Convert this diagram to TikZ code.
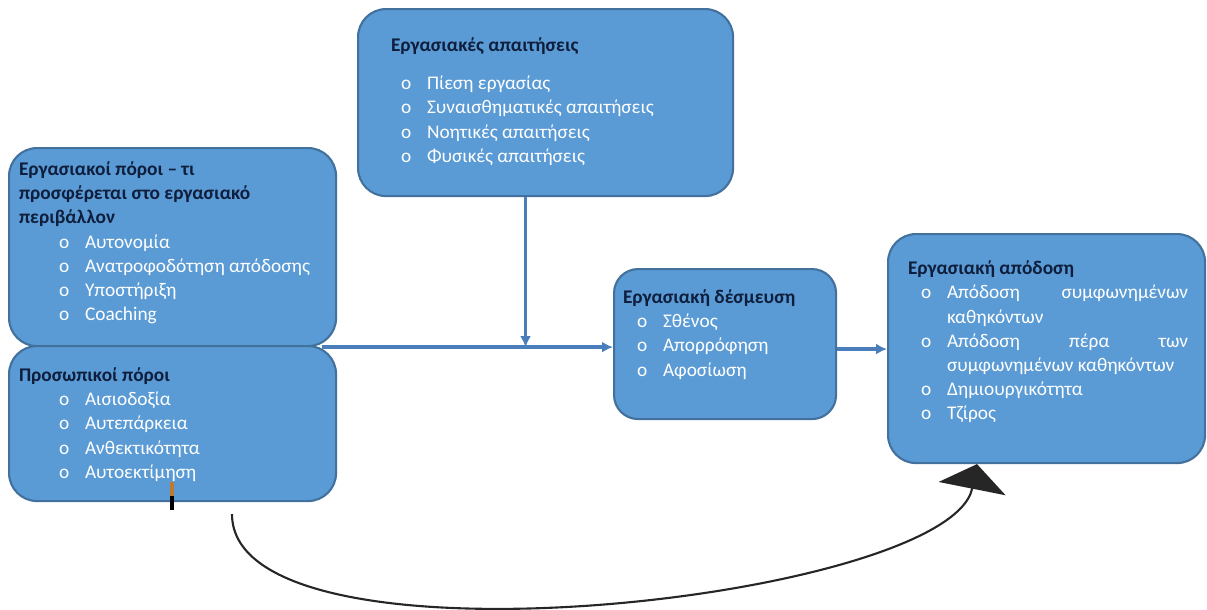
\documentclass[tikz,border=0pt]{standalone}
\usepackage{fontspec}
\setmainfont{Carlito}
\usetikzlibrary{arrows.meta, positioning, calc}
\definecolor{cfill}{HTML}{5B9BD5}
\definecolor{cedge}{HTML}{41719C}
\definecolor{carrow}{HTML}{4A7EBB}
\definecolor{ctitle}{HTML}{0E1E3C}
\definecolor{ctick}{HTML}{C07A30}
\newdimen\px \px=0.02cm
\newcommand{\itm}[2]{\hspace*{#1\px}\makebox[26\px][l]{o}#2}
\newcommand{\ttl}[1]{{\bfseries\color{ctitle}#1}}
\tikzset{
  every picture/.style={font=\fontsize{11}{13.7}\selectfont, line width=1.2pt},
  box/.style={draw=cedge, fill=cfill, rounded corners=28\px, anchor=north west, inner sep=0pt},
  txt/.style={anchor=north west, inner sep=0pt, align=left, text=white},
  flow/.style={-{Latex[length=2.2mm, width=2.2mm]}, draw=carrow, line width=2.2pt},
  swing/.style={-{Triangle[length=0.5cm, width=1.36cm]}, draw=black!85, line width=1.2pt},
}

\begin{document}
\begin{tikzpicture}[x=0.02cm, y=-0.02cm]
  \useasboundingbox (0,0) rectangle (1207,609);
  \node[box, minimum width=375\px, minimum height=187\px] (dem) at (357,8) {};
  \node[box, minimum width=327\px, minimum height=198\px] (res) at (8,147) {};
  \node[box, minimum width=327\px, minimum height=155\px] (pers) at (8,345) {};
  \node[box, minimum width=222\px, minimum height=150\px, rounded corners=24\px] (eng) at (613,268) {};
  \node[box, minimum width=317\px, minimum height=229\px] (perf) at (887,233) {};

  \node[txt] (demtxt) at (390,37) {\ttl{Εργασιακές απαιτήσεις}\\[14\px]
    \itm{10}{Πίεση εργασίας}\\ \itm{10}{Συναισθηματικές απαιτήσεις}\\
    \itm{10}{Νοητικές απαιτήσεις}\\ \itm{10}{Φυσικές απαιτήσεις}};
  \node[txt] (restxt) at (18,161) {\ttl{Εργασιακοί πόροι – τι}\\ \ttl{προσφέρεται στο εργασιακό}\\ \ttl{περιβάλλον}\\
    \itm{40}{Αυτονομία}\\ \itm{40}{Ανατροφοδότηση απόδοσης}\\ \itm{40}{Υποστήριξη}\\ \itm{40}{Coaching}};
  \node[txt] (perstxt) at (18,367) {\ttl{Προσωπικοί πόροι}\\
    \itm{40}{Αισιοδοξία}\\ \itm{40}{Αυτεπάρκεια}\\ \itm{40}{Ανθεκτικότητα}\\ \itm{40}{Αυτοεκτίμηση}};
  \node[txt] (engtxt) at (622,289) {\ttl{Εργασιακή δέσμευση}\\
    \itm{14}{Σθένος}\\ \itm{14}{Απορρόφηση}\\ \itm{14}{Αφοσίωση}};
  \node[txt] (perftxt) at (907,260) {\ttl{Εργασιακή απόδοση}\\
    \itm{13}{\makebox[241\px][s]{Απόδοση\hfill συμφωνημένων}}\\ \hspace*{39\px}καθηκόντων\\
    \itm{13}{\makebox[241\px][s]{Απόδοση\hfill πέρα\hfill των}}\\ \hspace*{39\px}συμφωνημένων καθηκόντων\\
    \itm{13}{Δημιουργικότητα}\\ \itm{13}{Τζίρος}};

  \draw[flow] ([xshift=-15\px]res.south east) -- (res.south east -| eng.west);
  \draw[flow] ([xshift=-20\px]dem.south) -- ([xshift=-20\px]dem.south |- res.south east);
  \draw[flow] ([yshift=-5\px]eng.east) -- ([yshift=-5\px]eng.east -| perf.west);

  \coordinate (cs) at ([xshift=224\px, yshift=-12\px]pers.south west);
  \coordinate (ce) at ([xshift=90\px]perf.south west);
  \draw[swing] (cs) .. controls (232,680) and (950,600) .. (ce);
  \draw[ctick, line width=2pt] (172,482) -- (172,496);
  \draw[black, line width=2pt] (172,496) -- (172,510);
\end{tikzpicture}
\end{document}
